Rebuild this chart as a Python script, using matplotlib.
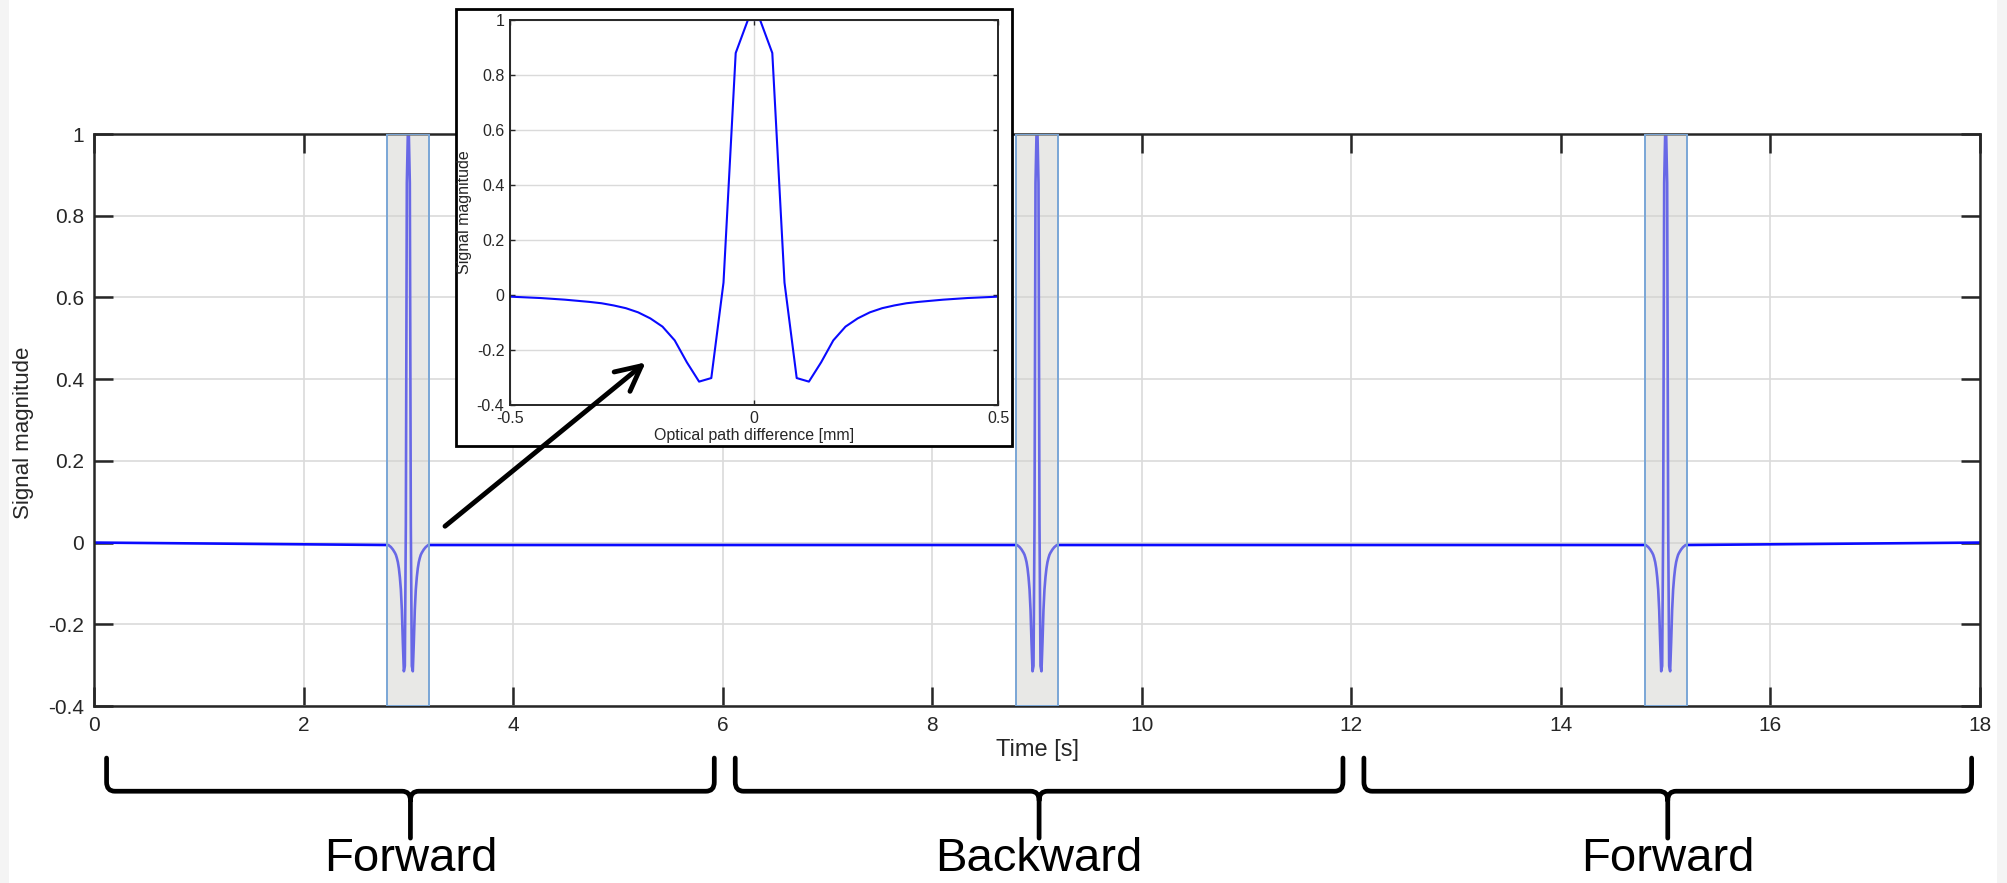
import numpy as np
import matplotlib
matplotlib.use("Agg")
import matplotlib.pyplot as plt
import matplotlib.transforms as mtransforms
from matplotlib.patches import Rectangle, PathPatch, ConnectionPatch
from matplotlib.path import Path

plt.rcParams["font.family"] = ["Liberation Sans", "DejaVu Sans"]

# ── data ────────────────────────────────────────────────────────────────
# one interferogram (inset), optical path difference [mm] vs signal
opd = np.array([
    -0.5, -0.4875, -0.4625, -0.4375, -0.4125, -0.3875, -0.3625, -0.3375,
    -0.3125, -0.2875, -0.2625, -0.2375, -0.2125, -0.1875, -0.1625, -0.1375,
    -0.1125, -0.0875, -0.0625, -0.0375, -0.0125,
    0.0125, 0.0375, 0.0625, 0.0875, 0.1125, 0.1375, 0.1625, 0.1875,
    0.2125, 0.2375, 0.2625, 0.2875, 0.3125, 0.3375, 0.3625, 0.3875,
    0.4125, 0.4375, 0.4625, 0.4875, 0.5,
])
signal = np.array([
    -0.006, -0.007, -0.009, -0.011, -0.014, -0.017, -0.021, -0.025,
    -0.030, -0.038, -0.048, -0.063, -0.085, -0.115, -0.165, -0.245,
    -0.315, -0.302, 0.045, 0.880, 1.000,
    1.000, 0.880, 0.045, -0.302, -0.315, -0.245, -0.165, -0.115,
    -0.085, -0.063, -0.048, -0.038, -0.030, -0.025, -0.021, -0.017,
    -0.014, -0.011, -0.009, -0.007, -0.006,
])

scan_centers = [3, 9, 15]          # time of zero path difference [s]
seg_starts = [0, 6, 12]
seg_ends = [6, 12, 18]
seg_labels = ["Forward", "Backward", "Forward"]
T_END = 18
TIME_PER_MM = 0.38                 # mirror travel -> time
BOX_HALF = 0.2

xticks = list(range(0, 19, 2))
yticks = [-0.4, -0.2, 0, 0.2, 0.4, 0.6, 0.8, 1]
ytick_labels = ["-0.4", "-0.2", "0", "0.2", "0.4", "0.6", "0.8", "1"]

# full time trace
t_trace = [0.0]
s_trace = [0.0]
for c in scan_centers:
    t_trace += list(c + opd * TIME_PER_MM)
    s_trace += list(signal)
t_trace.append(float(T_END))
s_trace.append(0.0)

# ── figure ──────────────────────────────────────────────────────────────
W, H = 2007, 883
fig = plt.figure(figsize=(W / 100, H / 100), dpi=100)
fig.patch.set_facecolor("white")

# light grey screenshot margins
fig.add_artist(Rectangle((0, 0), 9 / W, 1, transform=fig.transFigure,
                         facecolor="#f4f4f4", edgecolor="none", zorder=-5))
fig.add_artist(Rectangle((1997 / W, 0), 10 / W, 1, transform=fig.transFigure,
                         facecolor="#f4f4f4", edgecolor="none", zorder=-5))

ax = fig.add_axes([94 / W, 1 - 706 / H, 1886 / W, 572 / H])
ax.plot(t_trace, s_trace, color="#0a0aff", lw=1.9, zorder=2)

for c in scan_centers:
    ax.axvspan(c - BOX_HALF, c + BOX_HALF, facecolor="#d0d0cc", alpha=0.48,
               edgecolor="none", zorder=3)
    ax.axvspan(c - BOX_HALF, c + BOX_HALF, facecolor="none",
               edgecolor="#7aa6d6", lw=1.4, zorder=4)

ax.set_xlim(0, T_END)
ax.set_ylim(-0.4, 1)
ax.set_xticks(xticks)
ax.set_xticklabels([str(v) for v in xticks])
ax.set_yticks(yticks)
ax.set_yticklabels(ytick_labels)
ax.grid(True, color="#dadada", lw=1.2, zorder=0)
ax.tick_params(direction="in", length=13.5, width=1.8, top=True, right=True,
               labelsize=15, labelcolor="#262626", color="#262626", pad=7)
for sp in ax.spines.values():
    sp.set_linewidth(1.8)
    sp.set_color("#262626")
ax.set_xlabel("Time [s]", fontsize=17, color="#262626", ha="center", va="center")
ax.xaxis.set_label_coords(0.5, -0.077)
ax.set_ylabel("Signal magnitude", fontsize=16, color="#262626", ha="center", va="center")
ax.yaxis.set_label_coords(-0.0376, 0.477)

# braces under the three scans
blend = mtransforms.blended_transform_factory(ax.transData, ax.transAxes)
y_top, y_mid, y_bot = -0.091, -0.149, -0.231
rx, ry = 0.08, 0.016
for s, e, lab in zip(seg_starts, seg_ends, seg_labels):
    x0, x1 = s + 0.12, e - 0.08
    xm = (x0 + x1) / 2
    verts = [(x0, y_top), (x0, y_mid + ry), (x0, y_mid), (x0 + rx, y_mid),
             (xm - rx, y_mid), (xm, y_mid), (xm, y_mid - ry), (xm, y_bot),
             (x1, y_top), (x1, y_mid + ry), (x1, y_mid), (x1 - rx, y_mid),
             (xm + rx, y_mid), (xm, y_mid), (xm, y_mid - ry)]
    codes = [Path.MOVETO, Path.LINETO, Path.CURVE3, Path.CURVE3,
             Path.LINETO, Path.CURVE3, Path.CURVE3, Path.LINETO,
             Path.MOVETO, Path.LINETO, Path.CURVE3, Path.CURVE3,
             Path.LINETO, Path.CURVE3, Path.CURVE3]
    ax.add_patch(PathPatch(Path(verts, codes), transform=blend, fill=False,
                           lw=3.4, color="black", clip_on=False,
                           capstyle="round", joinstyle="round"))
    ax.text(xm, -0.289, lab, transform=blend, ha="center", va="baseline",
            fontsize=34, color="black")

# ── inset ───────────────────────────────────────────────────────────────
fig.add_artist(Rectangle((456 / W, 1 - 446 / H), 556 / W, 437 / H,
                         transform=fig.transFigure, facecolor="white",
                         edgecolor="black", lw=2.0, zorder=2))
ax_in = fig.add_axes([510 / W, 1 - 405 / H, 488 / W, 385 / H], zorder=3)
ax_in.plot(opd, signal, color="#0a0aff", lw=1.5)
ax_in.set_xlim(-0.5, 0.5)
ax_in.set_ylim(-0.4, 1)
ax_in.set_xticks([-0.5, 0, 0.5])
ax_in.set_xticklabels(["-0.5", "0", "0.5"])
ax_in.set_yticks(yticks)
ax_in.set_yticklabels(ytick_labels)
ax_in.grid(True, color="#dadada", lw=1.0, zorder=0)
ax_in.tick_params(direction="in", length=3.6, width=1.0, top=True, right=True,
                  labelsize=11.5, labelcolor="#262626", color="#262626", pad=4)
for sp in ax_in.spines.values():
    sp.set_linewidth(1.4)
    sp.set_color("#262626")
ax_in.set_xlabel("Optical path difference [mm]", fontsize=11.5, color="#262626",
                 ha="center", va="center")
ax_in.xaxis.set_label_coords(0.5, -0.078)
ax_in.set_ylabel("Signal magnitude", fontsize=11.5, color="#262626",
                 ha="center", va="center")
ax_in.yaxis.set_label_coords(-0.094, 0.5)

# arrow from the first scan to the inset
con = ConnectionPatch(xyA=(3.35, 0.04), coordsA=ax.transData,
                      xyB=(-0.222, -0.245), coordsB=ax_in.transData,
                      arrowstyle="->,head_length=0.9,head_width=0.45",
                      mutation_scale=20, lw=3.5, color="black",
                      shrinkA=0, shrinkB=0, zorder=10)
fig.add_artist(con)

fig.savefig("out.png", dpi=100)
